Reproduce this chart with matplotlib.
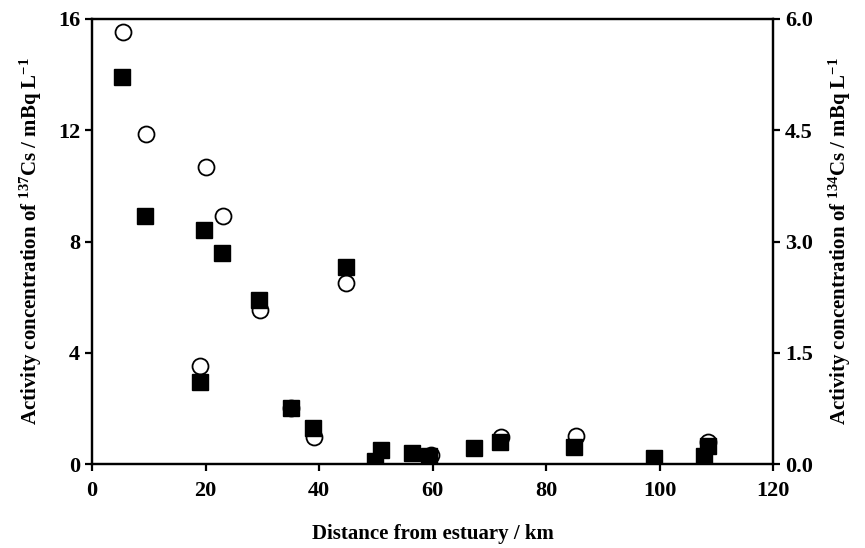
import matplotlib
matplotlib.use("Agg")
import matplotlib.pyplot as plt

plt.rcParams['font.family'] = ['Liberation Serif', 'DejaVu Serif']
plt.rcParams['font.weight'] = 'bold'
plt.rcParams['mathtext.fontset'] = 'custom'
plt.rcParams['mathtext.rm'] = 'Liberation Serif:bold'
plt.rcParams['mathtext.bf'] = 'Liberation Serif:bold'
plt.rcParams['mathtext.default'] = 'bf'

# 137Cs (filled squares, left axis)
cs137_km = [5.3, 9.3, 19.1, 19.8, 22.9, 29.5, 35.1, 39.0, 44.8, 49.9, 50.9,
            56.3, 59.4, 67.4, 71.9, 85.0, 99.0, 107.8, 108.5]
cs137_val = [13.9, 8.9, 2.95, 8.4, 7.6, 5.9, 2.0, 1.3, 7.1, 0.1, 0.5,
             0.38, 0.3, 0.58, 0.78, 0.6, 0.2, 0.3, 0.65]

# 134Cs (open circles, right axis)
cs134_km = [5.4, 9.5, 19.1, 20.0, 23.0, 29.6, 35.1, 39.1, 44.8, 59.7,
            72.0, 85.2, 108.6]
cs134_val = [5.82, 4.45, 1.32, 4.0, 3.35, 2.07, 0.76, 0.37, 2.44, 0.12,
             0.36, 0.38, 0.29]

xticks = [0, 20, 40, 60, 80, 100, 120]
yticks_left = [0, 4, 8, 12, 16]
yticks_right = [0.0, 1.5, 3.0, 4.5, 6.0]

fig = plt.figure(figsize=(8.65, 5.48), dpi=100)
ax = fig.add_axes([92/865, 1-464/548, (773-92)/865, (464-19)/548])
ax2 = ax.twinx()

ax2.plot(cs134_km, cs134_val, 'o', ms=11.5, mfc='white', mec='black', mew=1.3, zorder=2)
ax.plot(cs137_km, cs137_val, 's', ms=11.5, mfc='black', mec='black', zorder=3)
ax.set_zorder(ax2.get_zorder() + 1)
ax.patch.set_visible(False)

ax.set_xlim(0, 120)
ax.set_ylim(0, 16)
ax2.set_ylim(0, 6)
ax.set_xticks(xticks)
ax.set_yticks(yticks_left)
ax2.set_yticks(yticks_right)
ax2.set_yticklabels([f"{v:.1f}" for v in yticks_right])

for a in (ax, ax2):
    for sp in a.spines.values():
        sp.set_linewidth(1.6)
    a.tick_params(direction='out', length=5, width=1.6, labelsize=16)
ax.tick_params(axis='x', pad=7)

ax.set_xlabel('Distance from estuary / km', fontsize=15, fontweight='bold', labelpad=17)
ax.set_ylabel(r'Activity concentration of $^{137}$Cs / mBq L$^{-1}$', fontsize=15, fontweight='bold', labelpad=10)
ax2.set_ylabel(r'Activity concentration of $^{134}$Cs / mBq L$^{-1}$', fontsize=15, fontweight='bold', labelpad=10)

fig.savefig('out.png', dpi=100)
